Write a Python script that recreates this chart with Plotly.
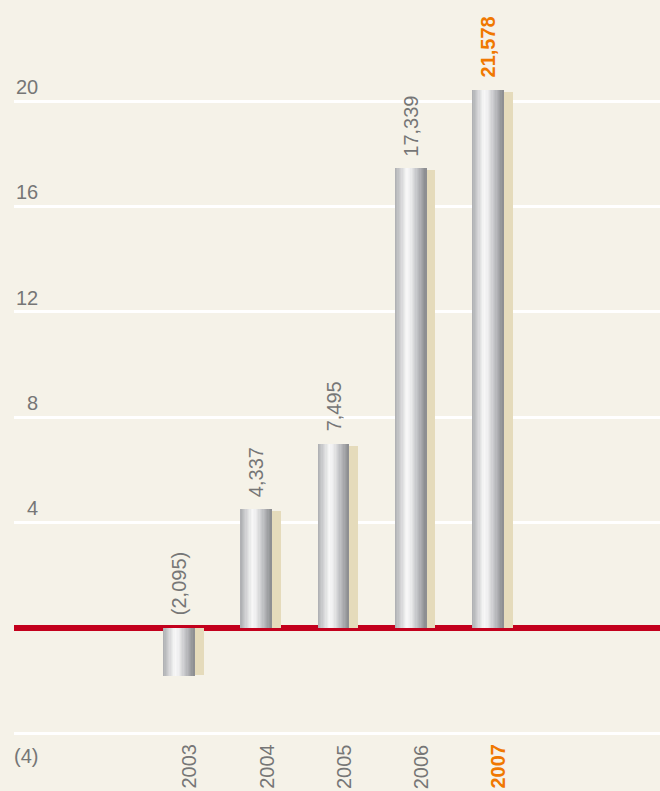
import plotly.graph_objects as go

# ---- data ----
years = ["2003", "2004", "2005", "2006", "2007"]
bar_values = [-1.85, 4.51, 6.98, 17.44, 20.42]          # drawn bar heights (billions)
value_labels = ["(2,095)", "4,337", "7,495", "17,339", "21,578"]
y_tick_values = [20, 16, 12, 8, 4, -4]
y_tick_labels = ["20", "16", "12", "8", "4", "(4)"]
highlight_year = "2007"

# ---- styling ----
BG = "#f5f2e8"
GRAY = "#767676"
ORANGE = "#f07800"
RED = "#c3001c"
SHADOW = "#e5dbbb"
PX_PER_X = 77.25          # px per category step
PX_PER_Y = 26.33          # px per unit
BAR_W = 31 / PX_PER_X
SHADOW_DX = 9 / PX_PER_X
SHADOW_DY = 2 / PX_PER_Y

xs = list(range(len(years)))
fig = go.Figure()

# shadow bars
shadow_vals = [v - SHADOW_DY if v > 0 else v + SHADOW_DY * 0.5 for v in bar_values]
fig.add_trace(go.Bar(x=xs, y=shadow_vals, width=BAR_W, offset=-BAR_W / 2 + SHADOW_DX,
                     marker=dict(color=SHADOW, line=dict(width=0)), hoverinfo="skip",
                     showlegend=False))

# metallic gradient strips
stops = [(0.0, (172, 173, 176)), (0.12, (196, 197, 199)), (0.38, (248, 248, 248)),
         (0.5, (238, 238, 239)), (0.75, (188, 189, 192)), (1.0, (138, 139, 142))]


def grad(t):
    for (t0, c0), (t1, c1) in zip(stops[:-1], stops[1:]):
        if t0 <= t <= t1:
            f = (t - t0) / (t1 - t0)
            c = [round(a + (b - a) * f) for a, b in zip(c0, c1)]
            return "rgb(%d,%d,%d)" % tuple(c)
    return "rgb(%d,%d,%d)" % stops[-1][1]


N = 24
sw = BAR_W / N
for j in range(N):
    fig.add_trace(go.Bar(x=xs, y=bar_values, width=sw * 1.25, offset=-BAR_W / 2 + j * sw,
                         marker=dict(color=grad((j + 0.5) / N), line=dict(width=0)),
                         hoverinfo="skip", showlegend=False))

x_lo = -165 / PX_PER_X
x_hi = 481 / PX_PER_X
y_hi = 20 + 101 / PX_PER_Y
y_lo = -(791 - 627.7) / PX_PER_Y

# value labels
for x, v, lab, yr in zip(xs, bar_values, value_labels, years):
    hl = yr == highlight_year
    fig.add_annotation(x=x, y=max(v, 0), text=("<b>%s</b>" % lab) if hl else lab,
                       textangle=-90, showarrow=False, xanchor="center", yanchor="bottom",
                       yshift=10, font=dict(size=20, color=ORANGE if hl else GRAY))

# x (year) labels
for x, yr in zip(xs, years):
    hl = yr == highlight_year
    fig.add_annotation(x=x, y=-4, text=("<b>%s</b>" % yr) if hl else yr, textangle=-90,
                       showarrow=False, xanchor="center", yanchor="top", xshift=10, yshift=-9,
                       font=dict(size=20, color=ORANGE if hl else GRAY))

# y tick labels
for v, lab in zip(y_tick_values, y_tick_labels):
    fig.add_annotation(xref="paper", x=0, y=v, text=lab, showarrow=False,
                       xanchor="right", yanchor="bottom" if v > 0 else "top",
                       xshift=26, yshift=1 if v > 0 else -10,
                       font=dict(size=20, color=GRAY))

fig.update_layout(
    width=660, height=791, barmode="overlay", bargap=0,
    paper_bgcolor=BG, plot_bgcolor=BG,
    margin=dict(l=14, r=0, t=0, b=0),
    font=dict(family="Liberation Sans, Arial, sans-serif"),
    xaxis=dict(range=[x_lo, x_hi], showgrid=False, zeroline=False, showticklabels=False,
               fixedrange=True),
    yaxis=dict(range=[y_lo, y_hi], tickvals=y_tick_values, showticklabels=False,
               showgrid=True, gridcolor="white", gridwidth=2.5,
               zeroline=True, zerolinecolor=RED, zerolinewidth=6, fixedrange=True),
    showlegend=False,
)

fig.write_html("out.html", config={"displayModeBar": False},
               post_script="document.body.style.margin='0';document.body.style.overflow='hidden';")
